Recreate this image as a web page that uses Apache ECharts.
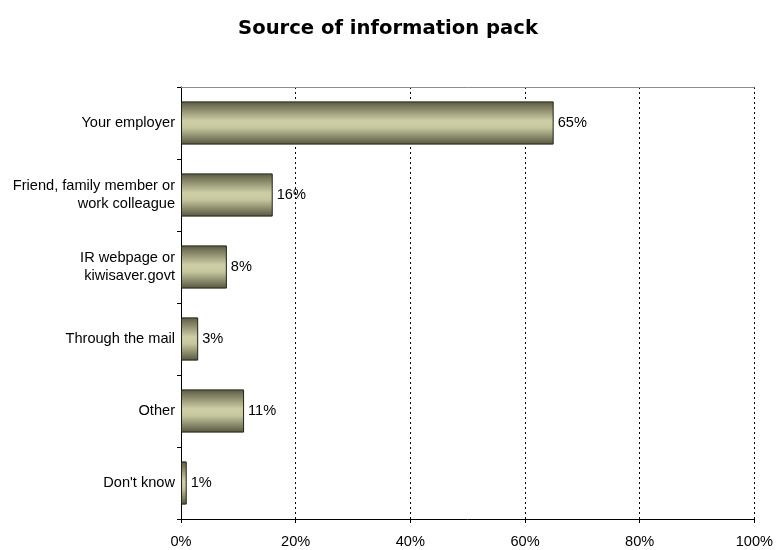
<!DOCTYPE html>
<html>
<head>
<meta charset="utf-8">
<script src="https://cdn.jsdelivr.net/npm/echarts@6/dist/echarts.min.js"></script>
<style>
  html, body { margin: 0; padding: 0; background: #fff; }
  #chart { width: 776px; height: 550px; }
</style>
</head>
<body>
<div id="chart"></div>
<script>
// Where respondents got their information pack (percent of respondents)
const categories = [
  "Your employer",
  "Friend, family member or\nwork colleague",
  "IR webpage or\nkiwisaver.govt",
  "Through the mail",
  "Other",
  "Don't know"
];
const shares = [65, 16, 8, 3, 11, 1];
const xTicks = [0, 20, 40, 60, 80, 100];

const chart = echarts.init(document.getElementById("chart"), null, { renderer: "canvas" });

// Cylinder-like shading across the bar thickness
const barFill = new echarts.graphic.LinearGradient(0, 0, 0, 1, [
  { offset: 0.0, color: "#5a5a42" },
  { offset: 0.2, color: "#8e8e6e" },
  { offset: 0.45, color: "#cdcda6" },
  { offset: 0.6, color: "#c8c8a0" },
  { offset: 0.82, color: "#8a8a6a" },
  { offset: 1.0, color: "#55553e" }
]);

const textFont = { fontFamily: "Liberation Sans", fontSize: 14.6, color: "#000" };

chart.setOption({
  animation: false,
  title: {
    text: "Source of information pack",
    left: "center",
    top: 14,
    textStyle: { fontFamily: "DejaVu Sans", fontWeight: "bold", fontSize: 19.6, color: "#000" }
  },
  grid: { left: 181, right: 20, top: 87, bottom: 31, containLabel: false },
  xAxis: [{
    type: "value",
    min: xTicks[0],
    max: xTicks[xTicks.length - 1],
    interval: 20,
    axisLine: { show: true, lineStyle: { color: "#000", width: 1 } },
    axisTick: { show: true, length: 4, lineStyle: { color: "#000" } },
    axisLabel: Object.assign({ formatter: v => v + "%", margin: 15 }, textFont),
    splitLine: { show: true, lineStyle: { color: "#000", type: [2, 3], width: 1 } }
  }, {
    // thin grey frame line along the top of the plot area
    type: "value",
    position: "top",
    min: xTicks[0],
    max: xTicks[xTicks.length - 1],
    interval: 20,
    axisLine: { show: true, lineStyle: { color: "#8c8c8c", width: 1 } },
    axisTick: { show: false },
    axisLabel: { show: false },
    splitLine: { show: false }
  }],
  yAxis: {
    type: "category",
    data: categories,
    inverse: true,
    axisLine: { show: true, lineStyle: { color: "#000", width: 1 } },
    axisTick: { show: true, length: 4, lineStyle: { color: "#000" } },
    axisLabel: Object.assign({ align: "right", margin: 6, lineHeight: 18 }, textFont)
  },
  series: [{
    type: "bar",
    data: shares,
    barWidth: "60%",
    itemStyle: { color: barFill, borderColor: "#22221a", borderWidth: 1 },
    label: Object.assign({
      show: true,
      position: "right",
      distance: 4,
      formatter: p => p.value + "%"
    }, textFont)
  }]
});
</script>
</body>
</html>
